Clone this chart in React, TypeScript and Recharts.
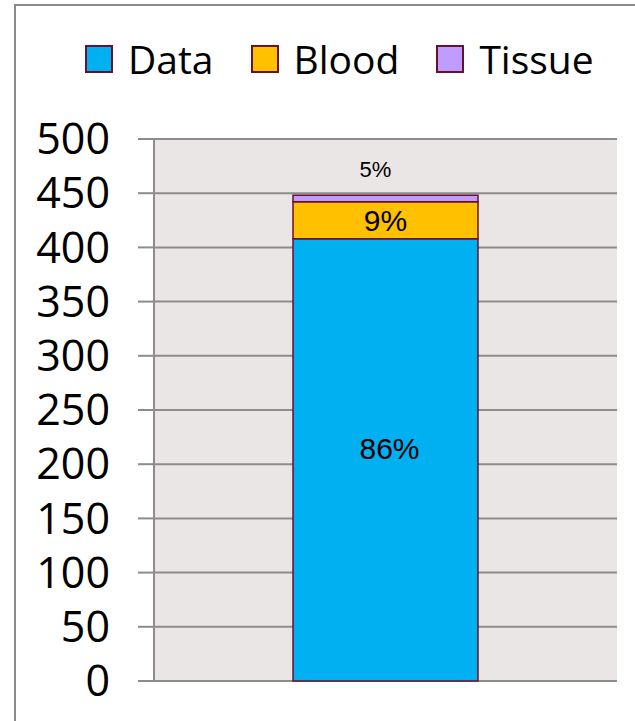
import React from 'react';
import { BarChart, Bar, XAxis, YAxis, CartesianGrid, Legend, LabelList } from 'recharts';

const categories = ['Samples'];
const dataValues = [408];
const bloodValues = [34];
const tissueValues = [6];
const dataShare = ['86%'];
const bloodShare = ['9%'];
const tissueShare = ['5%'];
const yTicks = [0, 50, 100, 150, 200, 250, 300, 350, 400, 450, 500];

const SERIES = [
  { key: 'data', name: 'Data', color: '#00B0F0' },
  { key: 'blood', name: 'Blood', color: '#FFC000' },
  { key: 'tissue', name: 'Tissue', color: '#C09CFF' },
];

const OUTLINE = '#6B0F2F';
const GRID = '#8C8C8C';
const TEXT_FONT = '"Open Sans", "Noto Sans", sans-serif';
const LABEL_FONT = '"Liberation Sans", Arial, sans-serif';

const chartData = categories.map((name, i) => ({
  name,
  data: dataValues[i],
  blood: bloodValues[i],
  tissue: tissueValues[i],
  dataShare: dataShare[i],
  bloodShare: bloodShare[i],
  tissueShare: tissueShare[i],
}));

// legend is 40px tall, recharts reserves that space above the plot
const LegendBox = () => (
  <div style={{ display: 'flex', alignItems: 'center', height: 40, paddingLeft: 85, fontFamily: TEXT_FONT, fontSize: 39, color: '#000' }}>
    {SERIES.map((s, i) => (
      <div key={s.key} style={{ display: 'flex', alignItems: 'center', marginRight: i < SERIES.length - 1 ? 37 : 0 }}>
        <span style={{ width: 24, height: 24, background: s.color, border: `2px solid ${OUTLINE}`, display: 'inline-block', marginRight: 15 }} />
        <span style={{ lineHeight: '40px' }}>{s.name}</span>
      </div>
    ))}
  </div>
);

const centerLabel = (size: number) => (props: any) => {
  const { x, y, width, height, value } = props;
  return (
    <text x={x + width / 2} y={y + height / 2} textAnchor="middle" dominantBaseline="central"
      fontFamily={LABEL_FONT} fontSize={size} fill="#000">
      {value}
    </text>
  );
};

const topLabel = (props: any) => {
  const { x, y, width, value } = props;
  return (
    <text x={x + width / 2 - 10} y={y - 26} textAnchor="middle" dominantBaseline="central"
      fontFamily={LABEL_FONT} fontSize={22} fill="#000">
      {value}
    </text>
  );
};

export default function App() {
  return (
    <div style={{ position: 'fixed', left: 0, top: 0, width: 635, height: 721, overflow: 'hidden', background: '#fff' }}>
      <div style={{ position: 'absolute', left: 14, top: 4, width: 700, height: 800, border: '2px solid #8A8A8A' }} />
      <div style={{ position: 'absolute', left: 0, top: 0 }}>
        <BarChart width={635} height={721} data={chartData} margin={{ top: 99, right: 18, bottom: 40, left: 0 }} barSize={185}>
          <CartesianGrid vertical={false} fill="#EAE6E6" stroke={GRID} strokeWidth={2} />
          <XAxis dataKey="name" hide />
          <YAxis
            width={154}
            domain={[0, 500]}
            ticks={yTicks}
            interval={0}
            tickSize={16}
            tickMargin={28}
            axisLine={{ stroke: GRID, strokeWidth: 2 }}
            tickLine={{ stroke: GRID, strokeWidth: 2 }}
            tick={{ fill: '#000', fontSize: 43, fontFamily: TEXT_FONT }}
          />
          <Legend verticalAlign="top" content={<LegendBox />} wrapperStyle={{ top: 39, left: 0, width: 635 }} />
          <Bar dataKey="data" name="Data" stackId="s" fill={SERIES[0].color} stroke={OUTLINE} strokeWidth={1.5} isAnimationActive={false}>
            <LabelList dataKey="dataShare" content={(p: any) => {
              const { x, y, width, height, value } = p;
              return (
                <text x={x + width / 2 + 4} y={y + height / 2 - 11} textAnchor="middle" dominantBaseline="central"
                  fontFamily={LABEL_FONT} fontSize={30} fill="#000">{value}</text>
              );
            }} />
          </Bar>
          <Bar dataKey="blood" name="Blood" stackId="s" fill={SERIES[1].color} stroke={OUTLINE} strokeWidth={1.5} isAnimationActive={false}>
            <LabelList dataKey="bloodShare" content={centerLabel(30)} />
          </Bar>
          <Bar dataKey="tissue" name="Tissue" stackId="s" fill={SERIES[2].color} stroke={OUTLINE} strokeWidth={1.5} isAnimationActive={false}>
            <LabelList dataKey="tissueShare" content={topLabel} />
          </Bar>
        </BarChart>
      </div>
    </div>
  );
}
